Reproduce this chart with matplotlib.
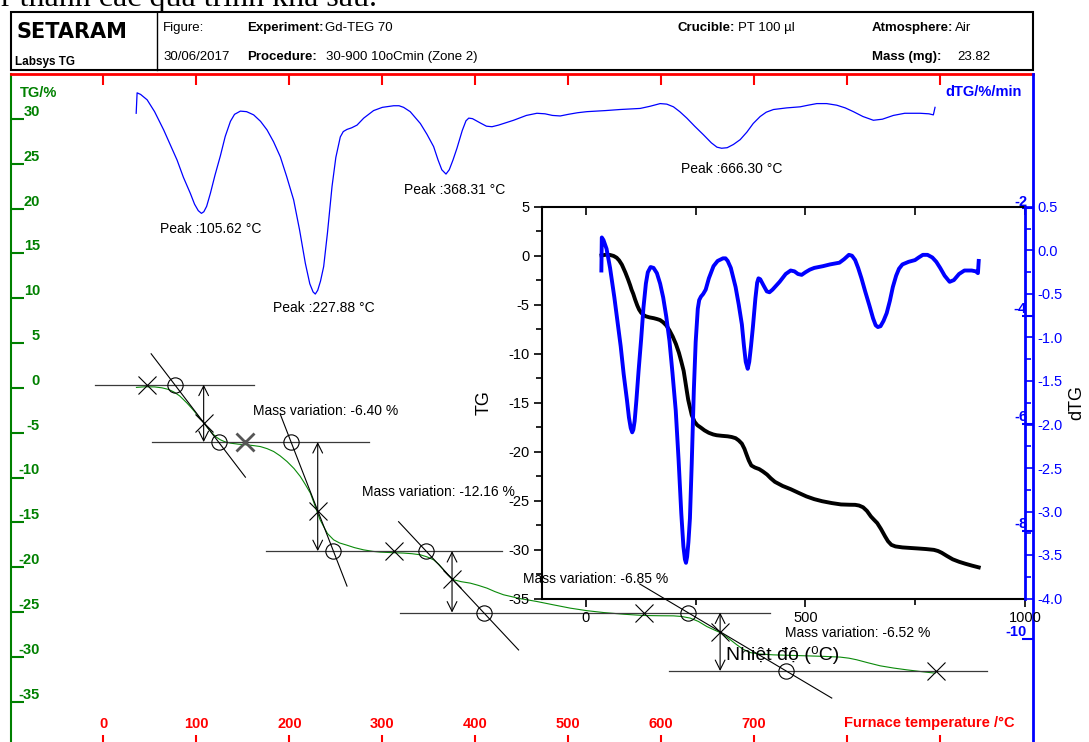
import numpy as np
import matplotlib
matplotlib.use("Agg")
import matplotlib.pyplot as plt
from matplotlib.patches import Rectangle
from matplotlib.lines import Line2D

plt.rcParams['font.family'] = ['Liberation Sans', 'DejaVu Sans']
plt.rcParams['axes.unicode_minus'] = False

W, H = 1089, 742
GREEN = '#008000'
RED = '#ff0000'
BLUE = '#0000ff'

# TG trace: furnace temperature (°C) and mass change (%)
tg_temp = [35.5, 45.0, 55.0, 63.0, 70.0, 75.6, 82.0, 90.0, 96.0, 100.8,
           104.0, 107.8, 112.0, 116.9, 121.0, 125.8, 131.0, 136.6, 145.0, 154.5,
           162.0, 168.8, 176.0, 183.1, 190.0, 197.5, 205.0, 211.8, 217.0, 222.6,
           226.0, 229.8, 233.0, 236.9, 241.0, 247.6, 254.0, 262.0, 270.0, 279.9,
           290.0, 297.8, 310.0, 322.9, 332.0, 340.9, 348.0, 355.2, 361.0, 365.9,
           371.0, 376.7, 385.0, 394.6, 403.0, 412.6, 421.0, 430.4, 448.0, 466.3,
           484.0, 502.2, 520.0, 538.0, 560.0, 581.0, 600.0, 613.2, 622.0, 631.2,
           640.0, 649.1, 656.0, 663.4, 672.0, 681.4, 688.0, 695.7, 705.0, 720.8,
           740.0, 756.7, 775.0, 792.5, 802.0, 810.4, 822.0, 835.5, 850.0, 864.2,
           880.0, 894.6]
tg_mass = [0.05, 0.12, 0.10, 0.00, -0.18, -0.45, -0.90, -1.71, -2.40, -3.00,
           -3.45, -3.87, -4.45, -5.05, -5.47, -5.80, -6.03, -6.17, -6.28, -6.36,
           -6.45, -6.55, -6.78, -7.10, -7.58, -8.22, -9.00, -9.89, -10.75, -11.74,
           -12.70, -13.80, -14.70, -15.47, -16.25, -16.95, -17.30, -17.55, -17.82, -18.07,
           -18.24, -18.32, -18.38, -18.43, -18.50, -18.62, -18.85, -19.18, -19.70, -20.30,
           -20.90, -21.41, -21.62, -21.78, -22.02, -22.34, -22.72, -23.08, -23.50, -23.83,
           -24.20, -24.57, -24.85, -25.06, -25.25, -25.39, -25.42, -25.43, -25.50, -25.68,
           -26.05, -26.62, -26.95, -27.29, -27.90, -28.66, -29.15, -29.52, -29.68, -29.78,
           -29.84, -29.89, -29.95, -30.03, -30.15, -30.33, -30.65, -31.00, -31.25, -31.45,
           -31.65, -31.82]

# dTG trace: temperature (°C) and rate (%/min)
dtg_temp = [35.2, 36.2, 40.0, 47.0, 55.0, 64.8, 72.0, 79.2, 86.0, 93.5,
            98.0, 102.0, 105.4, 108.0, 111.0, 115.0, 120.0, 125.8, 131.0, 136.6,
            141.0, 147.3, 154.0, 161.6, 169.0, 176.0, 183.0, 190.3, 197.0, 204.6,
            211.0, 217.2, 222.0, 225.5, 227.9, 230.5, 233.5, 236.9, 241.0, 245.9,
            250.0, 254.8, 258.0, 262.0, 267.0, 272.8, 280.0, 290.6, 300.0, 312.2,
            318.0, 322.9, 330.0, 340.9, 348.0, 355.2, 360.0, 364.0, 368.5, 372.0,
            376.0, 380.3, 386.0, 390.0, 393.0, 397.0, 405.4, 412.0, 418.0, 425.0,
            441.2, 455.0, 466.3, 475.0, 483.0, 491.4, 500.0, 510.0, 520.1, 540.0,
            555.9, 577.4, 588.0, 598.9, 606.0, 613.2, 620.0, 627.6, 636.0, 645.5,
            654.0, 660.0, 665.0, 671.0, 677.7, 685.0, 692.2, 699.0, 706.5, 713.0,
            720.8, 735.0, 749.5, 758.0, 767.4, 778.0, 788.9, 798.0, 806.8, 817.0,
            828.3, 838.0, 849.8, 862.0, 878.5, 888.0, 892.8, 894.6]
dtg_rate = [-0.23, 0.15, 0.12, 0.02, -0.20, -0.54, -0.82, -1.10, -1.42, -1.72,
            -1.92, -2.04, -2.09, -2.06, -1.96, -1.72, -1.38, -1.02, -0.66, -0.38,
            -0.25, -0.19, -0.20, -0.26, -0.38, -0.54, -0.76, -1.04, -1.40, -1.84,
            -2.40, -3.02, -3.40, -3.55, -3.59, -3.52, -3.35, -3.08, -2.45, -1.59,
            -1.05, -0.67, -0.57, -0.53, -0.50, -0.45, -0.32, -0.18, -0.12, -0.09,
            -0.09, -0.12, -0.20, -0.42, -0.62, -0.85, -1.10, -1.28, -1.36, -1.28,
            -1.10, -0.88, -0.55, -0.37, -0.32, -0.33, -0.41, -0.47, -0.48, -0.45,
            -0.36, -0.27, -0.23, -0.24, -0.27, -0.28, -0.25, -0.22, -0.20, -0.18,
            -0.16, -0.14, -0.10, -0.05, -0.06, -0.11, -0.20, -0.32, -0.47, -0.63,
            -0.78, -0.86, -0.88, -0.87, -0.81, -0.72, -0.58, -0.42, -0.29, -0.21,
            -0.16, -0.13, -0.11, -0.08, -0.05, -0.05, -0.08, -0.13, -0.20, -0.29,
            -0.36, -0.34, -0.27, -0.23, -0.23, -0.24, -0.26, -0.12]

peak_temps = [105.62, 227.88, 368.31, 666.30]
peak_label_drop = [16, 14, 16, 21]
mass_variations = [-6.40, -12.16, -6.85, -6.52]
start_level = 0.35
inflection_temps = [107.8, 230.5, 375.0, 663.4]
inflection_mass = [-3.87, -13.7, -21.3, -27.2]
tangent_slopes = [-0.1357, -0.267, -0.1108, -0.0616]
tangent_spans = [(51.3, 152.7), (190.3, 262.0), (317.5, 446.6), (576.9, 783.5)]
plateau_temps = [47.0, 152.7, 312.2, 581.7, 895.7]
level_spans = [(-8.6, 161.6), (52.4, 285.3), (175.3, 428.7), (319.4, 717.2), (607.9, 950.2)]
variation_label_pos = [(161, -2.6), (278, -11.6), (451, -21.3), (733, -27.3)]

temp_ticks = list(range(0, 901, 100))
temp_labels = ['0', '100', '200', '300', '400', '500', '600', '700', '', '']
tg_ticks = list(range(-35, 31, 5))
dtg_ticks = [-10, -8, -6, -4, -2]


def box(x0, y0, x1, y1):
    # pixel box -> figure fraction rect
    return [x0 / W, 1 - y1 / H, (x1 - x0) / W, (y1 - y0) / H]


def fx(x):
    return x / W


def fy(y):
    return 1 - y / H


fig = plt.figure(figsize=(W / 100, H / 100), dpi=100)
fig.patch.set_facecolor('white')

# cut-off line of body text above the plot
fig.text(fx(1), fy(6), 'r thành các quá trình khá sau.', fontsize=23,
         family=['Liberation Serif', 'DejaVu Serif'], va='baseline', ha='left')

# header block
fig.add_artist(Rectangle((fx(10.5), fy(69.5)), (1033 - 10.5) / W, 57 / H,
                         transform=fig.transFigure, fill=False, lw=1.5, ec='black'))
fig.add_artist(Line2D([fx(157), fx(157)], [fy(12.5), fy(69.5)],
                      transform=fig.transFigure, color='black', lw=1))
fig.text(fx(16), fy(32), 'SETARAM', family='DejaVu Sans', fontweight='bold',
         fontsize=15, va='center')
fig.text(fx(15), fy(62), 'Labsys TG', fontweight='bold', fontsize=8.5, va='center')
fig.text(fx(163), fy(28), 'Figure:', fontsize=9.5, va='center')
fig.text(fx(163), fy(57), '30/06/2017', fontsize=9.5, va='center')
fig.text(fx(247), fy(28), 'Experiment:', fontweight='bold', fontsize=9.5, va='center')
fig.text(fx(325), fy(28), 'Gd-TEG 70', fontsize=9.5, va='center')
fig.text(fx(247), fy(57), 'Procedure:', fontweight='bold', fontsize=9.5, va='center')
fig.text(fx(326), fy(57), '30-900 10oCmin (Zone 2)', fontsize=9.5, va='center')
fig.text(fx(678), fy(28), 'Crucible:', fontweight='bold', fontsize=9.5, va='center')
fig.text(fx(738), fy(28), 'PT 100 µl', fontsize=9.5, va='center')
fig.text(fx(872), fy(28), 'Atmosphere:', fontweight='bold', fontsize=9.5, va='center')
fig.text(fx(955), fy(28), 'Air', fontsize=9.5, va='center')
fig.text(fx(872), fy(57), 'Mass (mg):', fontweight='bold', fontsize=9.5, va='center')
fig.text(fx(957), fy(57), '23.82', fontsize=9.5, va='center')

# main TG / dTG frame
ax = fig.add_axes(box(10.5, 74, 1033, 746.5))
ax.set_xlim(-100, 1000)
ax.set_ylim(-40, 35)
ax2 = ax.twinx()
ax2.set_ylim(-12, 0.5)

ax.spines['left'].set_color(GREEN)
ax.spines['left'].set_linewidth(1.5)
ax.spines['top'].set_color(RED)
ax.spines['top'].set_linewidth(2)
ax.spines['bottom'].set_color(RED)
ax.spines['right'].set_visible(False)
for s in ['left', 'top', 'bottom']:
    ax2.spines[s].set_visible(False)
ax2.spines['right'].set_color(BLUE)
ax2.spines['right'].set_linewidth(2)

ax.set_xticks(temp_ticks)
ax.set_xticklabels(temp_labels)
ax.tick_params(axis='x', direction='in', length=8, width=1.5, color=RED,
               labelcolor=RED, labelsize=10.5, top=True, bottom=True, pad=-21)
for lbl in ax.get_xticklabels():
    lbl.set_fontweight('bold')

ax.set_yticks(tg_ticks)
ax.tick_params(axis='y', direction='in', length=9, width=1.5, color=GREEN,
               labelcolor=GREEN, labelsize=10.5, pad=-21.2)
for lbl in ax.get_yticklabels():
    lbl.set_fontweight('bold')
    lbl.set_va('bottom')

ax2.set_yticks(dtg_ticks)
ax2.tick_params(axis='y', direction='in', length=8, width=1.5, color=BLUE,
                labelcolor=BLUE, labelsize=10.5, pad=-4.3)
for lbl in ax2.get_yticklabels():
    lbl.set_fontweight('bold')
    lbl.set_ha('right')
    lbl.set_va('bottom')

fig.text(fx(20), fy(93), 'TG/%', color=GREEN, fontweight='bold', fontsize=10.5, va='center')
fig.text(fx(1022), fy(92), 'dTG/%/min', color=BLUE, fontweight='bold', fontsize=10.5,
         va='center', ha='right')
fig.text(fx(844), fy(723), 'Furnace temperature /°C', color=RED, fontweight='bold',
         fontsize=10.5, va='center')

ax.plot(tg_temp, tg_mass, color='#0a8a0a', lw=0.8)
ax2.plot(dtg_temp, dtg_rate, color=BLUE, lw=0.9)

for p, drop in zip(peak_temps, peak_label_drop):
    ax2.annotate(f'Peak :{p:.2f} °C', xy=(p, np.interp(p, dtg_temp, dtg_rate)),
                 xytext=(-42, -drop), textcoords='offset pixels', ha='left', va='center',
                 fontsize=10)

# step construction: plateau levels, tangents, inflection points
levels = start_level + np.concatenate([[0], np.cumsum(mass_variations)])
for lev, (t0, t1) in zip(levels, level_spans):
    ax.plot([t0, t1], [lev, lev], color='#3a3a3a', lw=0.9)

for i, mv in enumerate(mass_variations):
    ti, mi, s = inflection_temps[i], inflection_mass[i], tangent_slopes[i]
    t0, t1 = tangent_spans[i]
    ax.plot([t0, t1], [mi + s * (t0 - ti), mi + s * (t1 - ti)], color='black', lw=0.8)
    t_up = ti + (levels[i] - mi) / s
    t_low = ti + (levels[i + 1] - mi) / s
    ax.plot([t_up, t_low], [levels[i], levels[i + 1]], 'o', mfc='none', mec='black',
            ms=11, mew=0.8)
    ax.plot(ti, mi, 'x', color='black', ms=13, mew=0.8)
    ax.annotate('', xy=(ti, levels[i + 1]), xytext=(ti, levels[i]),
                arrowprops=dict(arrowstyle='<->,head_length=0.7,head_width=0.35',
                                color='black', lw=0.8, shrinkA=0, shrinkB=0))
    lx, ly = variation_label_pos[i]
    ax.text(lx, ly, f'Mass variation: {mv:.2f} %', fontsize=10, va='center')

for j, (t, lev) in enumerate(zip(plateau_temps, levels)):
    if j == 1:
        ax.plot(t, lev, 'x', color='#555555', ms=13, mew=2.0)
    else:
        ax.plot(t, lev, 'x', color='black', ms=13, mew=0.8)

# inset: same run replotted
axi = fig.add_axes(box(542, 207, 1025, 598.5))
axi.set_facecolor('none')
axi.set_xlim(-100, 1000)
axi.set_ylim(-35, 5)
axi.plot(tg_temp, tg_mass, color='black', lw=2.8)
axi2 = axi.twinx()
axi2.set_ylim(-4.0, 0.5)
axi2.plot(dtg_temp, dtg_rate, color=BLUE, lw=2.8)

for s in ['left', 'top', 'bottom']:
    axi.spines[s].set_linewidth(1.5)
    axi2.spines[s].set_visible(False)
axi.spines['right'].set_visible(False)
axi2.spines['right'].set_color(BLUE)
axi2.spines['right'].set_linewidth(2)

axi.set_xticks([0, 500, 1000])
axi.set_xticks([250, 750], minor=True)
axi.set_yticks(np.arange(-35, 6, 5))
axi.set_yticks(np.arange(-32.5, 5, 5), minor=True)
axi.tick_params(axis='both', which='major', direction='out', length=6, width=1.2,
                labelsize=10.5, pad=3)
axi.tick_params(axis='both', which='minor', direction='out', length=4, width=1.2)
top = axi.secondary_xaxis('top')
top.set_xticks([0, 250, 500, 750, 1000])
top.tick_params(direction='in', length=6, width=1.2, labeltop=False)
top.spines['top'].set_visible(False)

axi2.set_yticks(np.arange(-4.0, 0.51, 0.5))
axi2.set_yticks(np.arange(-3.75, 0.5, 0.5), minor=True)
axi2.set_yticklabels([f'{v:.1f}' for v in np.arange(-4.0, 0.51, 0.5)])
axi2.tick_params(axis='y', which='major', direction='out', length=6, width=1.2,
                 color=BLUE, labelcolor=BLUE, labelsize=10.5, pad=3)
axi2.tick_params(axis='y', which='minor', direction='out', length=4, width=1.2, color=BLUE)

axi.text(-0.12, 0.5, 'TG', transform=axi.transAxes, rotation=90, ha='center',
         va='center', fontsize=13)
axi.text(1.108, 0.5, 'dTG', transform=axi.transAxes, rotation=90, ha='center',
         va='center', fontsize=13)
axi.text(0.499, -0.144, 'Nhiệt độ (⁰C)', transform=axi.transAxes, ha='center',
         va='center', fontsize=14)

fig.savefig('out.png', dpi=100)
